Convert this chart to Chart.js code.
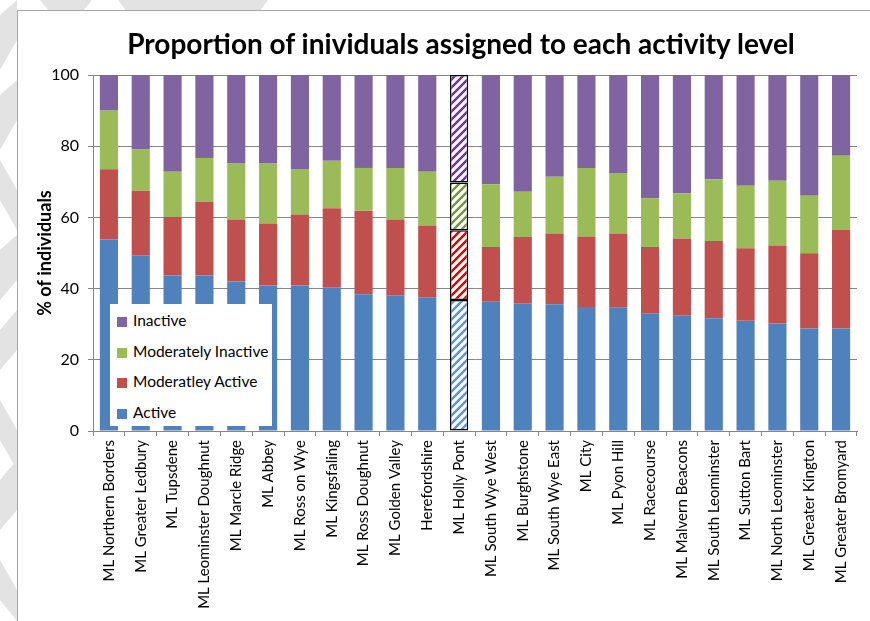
<!DOCTYPE html>
<html>
<head>
<meta charset="utf-8">
<script src="https://cdn.jsdelivr.net/npm/chart.js@4"></script>
<style>
  html, body { margin: 0; padding: 0; background: #fff; }
  body { width: 870px; height: 621px; position: relative; overflow: hidden; font-family: Lato, "Open Sans", sans-serif; }
  #deco { position: absolute; left: 0; top: 0; }
  #frame { position: absolute; left: 17px; top: 10px; width: 870px; height: 640px; background: #fff;
           border-left: 1px solid #a6a6a6; border-top: 1px solid #a6a6a6; }
  #wrap { position: absolute; left: 17px; top: 10px; width: 853px; height: 611px; }
  #title { position: absolute; left: 61px; top: 28px; width: 800px; text-align: center;
           font-size: 28px; font-weight: bold; line-height: 30px; color: #000; white-space: nowrap; }
  #legend { position: absolute; left: 110px; top: 304px; width: 162px; height: 122px; background: #fff;
            box-sizing: border-box; padding: 1px 0 0 7px; }
  #legend div { height: 30.5px; line-height: 30px; font-size: 15.5px; color: #000; white-space: nowrap; }
  #legend span { display: inline-block; width: 10px; height: 10px; margin-right: 6px; vertical-align: -1px; }
</style>
</head>
<body>
<svg id="deco" width="870" height="621">
  <g fill="#e3e3e3">
    <polygon points="40,0 92,0 82,12 50,12"/>
    <polygon points="118,0 268,0 250,24 136,24"/>
    <polygon points="0,15 17,0 17,40 0,70"/>
    <polygon points="0,95 17,80 17,120 0,150"/>
    <polygon points="0,160 17,190 17,230 0,200"/>
    <polygon points="0,250 17,235 17,280 0,300"/>
    <polygon points="0,330 17,310 17,350 0,370"/>
    <polygon points="0,400 17,430 17,470 0,440"/>
    <polygon points="0,480 17,460 17,510 0,530"/>
    <polygon points="0,560 17,590 17,621 0,600"/>
  </g>
</svg>
<div id="frame"></div>
<div id="wrap"><canvas id="chart"></canvas></div>
<div id="title">Proportion of inividuals assigned to each activity level</div>
<div id="legend"></div>
<script>
const areas = ['ML Northern Borders', 'ML Greater Ledbury', 'ML Tupsdene', 'ML Leominster Doughnut',
  'ML Marcle Ridge', 'ML Abbey', 'ML Ross on Wye', 'ML Kingsfaling', 'ML Ross Doughnut',
  'ML Golden Valley', 'Herefordshire', 'ML Holly Pont', 'ML South Wye West', 'ML Burghstone',
  'ML South Wye East', 'ML City', 'ML Pyon Hill', 'ML Racecourse', 'ML Malvern Beacons',
  'ML South Leominster', 'ML Sutton Bart', 'ML North Leominster', 'ML Greater Kington',
  'ML Greater Bromyard'];

const active       = [53.8, 49.4, 43.7, 43.7, 42.0, 40.9, 40.9, 40.4, 38.4, 38.1, 37.6, 36.8,
                      36.3, 35.9, 35.6, 34.8, 34.6, 33.1, 32.5, 31.7, 31.0, 30.2, 28.8, 28.8];
const modActive    = [19.7, 18.1, 16.4, 20.7, 17.4, 17.4, 19.9, 22.2, 23.5, 21.3, 20.1, 19.6,
                      15.4, 18.6, 19.9, 19.8, 20.9, 18.6, 21.6, 21.7, 20.3, 21.9, 21.1, 27.7];
const modInactive  = [16.5, 11.6, 12.7, 12.3, 15.9, 17.0, 12.8, 13.3, 12.0, 14.5, 15.1, 13.4,
                      17.6, 12.7, 15.9, 19.3, 17.0, 13.7, 12.7, 17.3, 17.6, 18.2, 16.2, 20.8];
const inactive     = [10.0, 20.9, 27.2, 23.3, 24.7, 24.7, 26.4, 24.1, 26.1, 26.1, 27.2, 30.2,
                      30.7, 32.8, 28.6, 26.1, 27.5, 34.6, 33.2, 29.3, 31.1, 29.7, 33.9, 22.7];

const yTicks = [0, 20, 40, 60, 80, 100];

// the highlighted area is drawn hatched with a black outline
const highlight = areas.indexOf('ML Holly Pont');

function hatch(color) {
  const s = 8;
  const c = document.createElement('canvas');
  c.width = s; c.height = s;
  const g = c.getContext('2d');
  g.fillStyle = '#fff';
  g.fillRect(0, 0, s, s);
  g.strokeStyle = color;
  g.lineWidth = 2.4;
  g.beginPath();
  g.moveTo(-1, s + 1); g.lineTo(s + 1, -1);
  g.moveTo(-1, 1); g.lineTo(1, -1);
  g.moveTo(s - 1, s + 1); g.lineTo(s + 1, s - 1);
  g.stroke();
  return g.createPattern(c, 'repeat');
}

function series(label, values, color, hatchColor) {
  const pattern = hatch(hatchColor);
  return {
    label: label,
    data: values,
    legendColor: color,
    backgroundColor: ctx => ctx.dataIndex === highlight ? pattern : color,
    borderColor: ctx => ctx.dataIndex === highlight ? '#000' : color,
    borderWidth: ctx => ctx.dataIndex === highlight ? 1.5 : 0,
    borderSkipped: false,
    barPercentage: 0.57,
    categoryPercentage: 1
  };
}

const datasets = [
  series('Active', active, '#4f81bd', '#5b93d6'),
  series('Moderatley Active', modActive, '#c0504d', '#e00000'),
  series('Moderately Inactive', modInactive, '#9bbb59', '#77933c'),
  series('Inactive', inactive, '#8064a2', '#7030a0')
];

const axisGrey = '#868686';
const font = 'Lato, "Open Sans", sans-serif';

const ctx = document.getElementById('chart').getContext('2d');
const chart = new Chart(ctx, {
  type: 'bar',
  data: { labels: areas, datasets: datasets },
  options: {
    responsive: true,
    maintainAspectRatio: false,
    animation: false,
    layout: { padding: { top: 65, right: 13, bottom: 0, left: 0 } },
    plugins: {
      legend: { display: false },
      tooltip: { enabled: false }
    },
    scales: {
      x: {
        stacked: true,
        grid: { offset: true, drawOnChartArea: false, drawTicks: true, tickLength: 5, color: axisGrey },
        border: { color: axisGrey },
        ticks: {
          autoSkip: false, minRotation: 90, maxRotation: 90, padding: 4,
          color: '#000', font: { family: font, size: 15 }
        },
        afterFit: s => { s.height = 190; }
      },
      y: {
        stacked: true,
        min: 0,
        max: 100,
        afterBuildTicks: s => { s.ticks = yTicks.map(v => ({ value: v })); },
        grid: { color: axisGrey, tickLength: 5 },
        border: { color: axisGrey },
        ticks: { padding: 9, color: '#000', font: { family: font, size: 16 } },
        title: {
          display: true,
          text: '% of individuals',
          color: '#000',
          font: { family: font, size: 18, weight: 'bold' },
          padding: { top: 17, bottom: 0 }
        },
        afterFit: s => { s.width = 76; }
      }
    }
  }
});

// legend box inside the plot, listed top series first
const legendBox = document.getElementById('legend');
chart.data.datasets.slice().reverse().forEach(ds => {
  const row = document.createElement('div');
  const sw = document.createElement('span');
  sw.style.background = ds.legendColor;
  row.appendChild(sw);
  row.appendChild(document.createTextNode(ds.label));
  legendBox.appendChild(row);
});
</script>
</body>
</html>
